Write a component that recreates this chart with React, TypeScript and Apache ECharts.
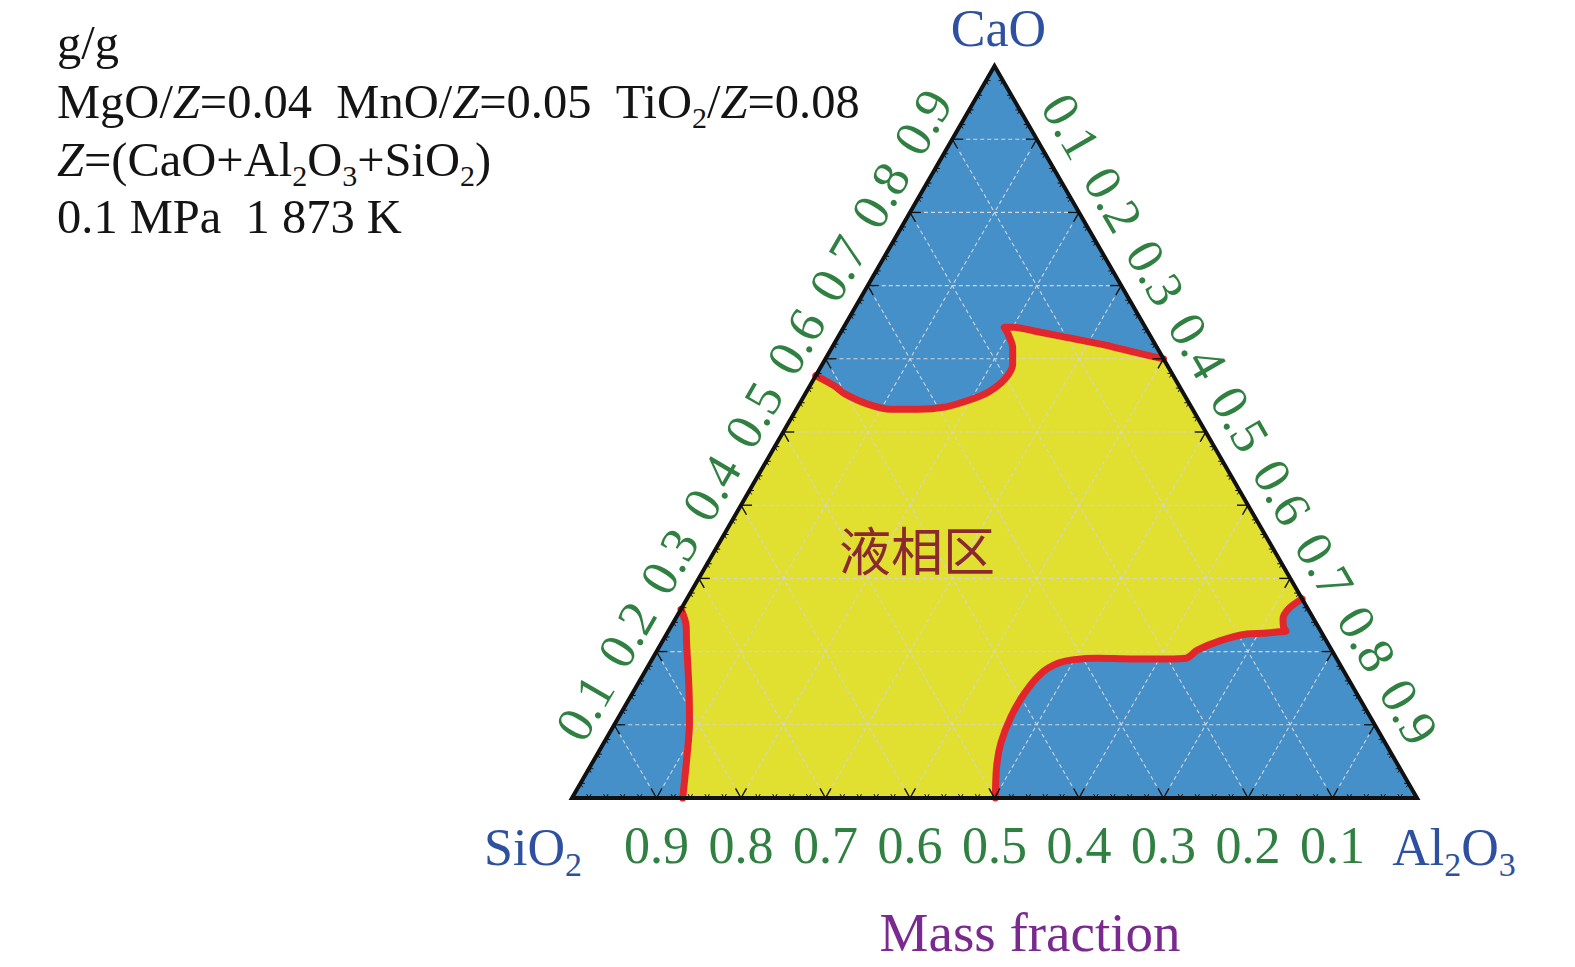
import React, { useEffect, useRef } from 'react';
import * as echarts from 'echarts';

// ---------------- data ----------------
const majorValues = [0.1, 0.2, 0.3, 0.4, 0.5, 0.6, 0.7, 0.8, 0.9];
// bottom axis (SiO2 fraction), left to right
const sio2TickLabels = ['0.9', '0.8', '0.7', '0.6', '0.5', '0.4', '0.3', '0.2', '0.1'];
// left side (CaO fraction), bottom to top
const caoTickLabels = ['0.1', '0.2', '0.3', '0.4', '0.5', '0.6', '0.7', '0.8', '0.9'];
// right side (Al2O3 fraction), top to bottom
const al2o3TickLabels = ['0.1', '0.2', '0.3', '0.4', '0.5', '0.6', '0.7', '0.8', '0.9'];
const minorStep = 0.02;

// Boundary curves of the liquid region, as [CaO, Al2O3] mass fractions (SiO2 = 1 - CaO - Al2O3)
const upperBoundary = [
  [0.577, 0.0],
  [0.563, 0.029],
  [0.552, 0.047],
  [0.538, 0.081],
  [0.531, 0.112],
  [0.531, 0.144],
  [0.534, 0.174],
  [0.543, 0.197],
  [0.554, 0.215],
  [0.572, 0.226],
  [0.593, 0.225],
  [0.615, 0.214],
  [0.634, 0.199],
  [0.643, 0.19],
  [0.643, 0.202],
  [0.638, 0.228],
  [0.629, 0.272],
  [0.62, 0.316],
  [0.609, 0.361],
  [0.6, 0.4],
];
const lowerRightBoundary = [
  [0.272, 0.728],
  [0.259, 0.719],
  [0.245, 0.719],
  [0.234, 0.725],
  [0.228, 0.731],
  [0.227, 0.723],
  [0.225, 0.706],
  [0.224, 0.687],
  [0.215, 0.66],
  [0.202, 0.639],
  [0.191, 0.631],
  [0.19, 0.61],
  [0.19, 0.566],
  [0.191, 0.527],
  [0.189, 0.5],
  [0.184, 0.483],
  [0.17, 0.47],
  [0.143, 0.464],
  [0.111, 0.464],
  [0.075, 0.47],
  [0.043, 0.481],
  [0.0, 0.501],
];
const leftBoundary = [
  [0.258, 0.0],
  [0.236, 0.017],
  [0.215, 0.028],
  [0.147, 0.065],
  [0.102, 0.088],
  [0.056, 0.108],
  [0.0, 0.131],
];

// ---------------- style ----------------
const SERIF = '"Liberation Serif", "Times New Roman", serif';
const CJK = '"Noto Sans CJK SC", sans-serif';
const BLUE = '#4690CA';
const YELLOW = '#E1DF2F';
const RED = '#E3262B';
const GREEN = '#2F8041';
const NAVY = '#2E50A1';
const PURPLE = '#7A2A8F';
const GRID_GRAY = '#D4D4D4';
const S3 = Math.sqrt(3) / 2;

// ternary [CaO, Al2O3] -> cartesian [x, y] of an equilateral triangle
const toXY = (p: number[]) => [p[1] + p[0] / 2, p[0]];

const liquidRegion = [...upperBoundary, ...lowerRightBoundary, ...leftBoundary.slice().reverse()];

const one = [[0, 0]];

function txt(text: string, x: number, y: number, rotation: number, fill: string, size: number) {
  return {
    type: 'text',
    x,
    y,
    rotation,
    style: {
      text,
      fill,
      font: `${size}px ${SERIF}`,
      fontFamily: SERIF,
      fontSize: size,
      align: 'center',
      verticalAlign: 'middle',
      textAlign: 'center',
      textVerticalAlign: 'middle',
    },
  };
}

function richText(text: string, x: number, y: number, fill: string, size: number, sub: number, pad: number, align = 'center') {
  return {
    type: 'text',
    x,
    y,
    style: {
      text,
      fill,
      fontFamily: SERIF,
      fontSize: size,
      font: `${size}px ${SERIF}`,
      align,
      verticalAlign: 'middle',
      textAlign: align,
      textVerticalAlign: 'middle',
      rich: {
        m: { fontFamily: SERIF, fontSize: size, fill },
        i: { fontFamily: SERIF, fontSize: size, fontStyle: 'italic', fill },
        s: { fontFamily: SERIF, fontSize: sub, fill, padding: [pad, 0, 0, 0] },
      },
    },
  };
}

function renderTriangle(params: any, api: any) {
  const pts = [[0, 0], [1, 0], [0.5, 1]].map((p) => api.coord(p));
  return { type: 'polygon', shape: { points: pts }, style: { fill: BLUE } };
}

function renderLiquid(params: any, api: any) {
  const pts = liquidRegion.map((p) => api.coord(toXY(p)));
  return { type: 'polygon', shape: { points: pts }, style: { fill: YELLOW } };
}

function renderGrid(params: any, api: any) {
  const children: any[] = [];
  majorValues.forEach((v) => {
    const segs = [
      [[v, 0], [v, 1 - v]],
      [[0, v], [1 - v, v]],
      [[0, 1 - v], [1 - v, 0]],
    ];
    segs.forEach((s) => {
      const a = api.coord(toXY(s[0]));
      const b = api.coord(toXY(s[1]));
      children.push({
        type: 'line',
        shape: { x1: a[0], y1: a[1], x2: b[0], y2: b[1] },
        style: { stroke: GRID_GRAY, lineWidth: 1.1, lineDash: [4, 3] },
      });
    });
  });
  return { type: 'group', children };
}

function renderFrame(params: any, api: any) {
  const pts = [[0, 0], [1, 0], [0.5, 1]].map((p) => api.coord(p));
  return {
    type: 'polygon',
    shape: { points: pts },
    style: { fill: 'none', stroke: '#111', lineWidth: 4, lineJoin: 'miter' },
  };
}

function renderTicks(params: any, api: any) {
  const children: any[] = [];
  const n = Math.round(1 / minorStep);
  const dirs: any = {
    right: [1, 0],
    left: [-1, 0],
    upRight: [0.5, -S3],
    upLeft: [-0.5, -S3],
    downRight: [0.5, S3],
    downLeft: [-0.5, S3],
  };
  for (let k = 1; k < n; k++) {
    const v = k * minorStep;
    const major = k % 5 === 0;
    const len = major ? 11 : 4.5;
    const places: [number[], string[]][] = [
      [[0, v], ['upLeft', 'upRight']],
      [[v, 0], ['right', 'downRight']],
      [[v, 1 - v], ['left', 'downLeft']],
    ];
    places.forEach(([p, ds]) => {
      const c = api.coord(toXY(p));
      ds.forEach((d) => {
        const u = dirs[d];
        children.push({
          type: 'line',
          shape: { x1: c[0], y1: c[1], x2: c[0] + u[0] * len, y2: c[1] + u[1] * len },
          style: { stroke: '#111', lineWidth: major ? 1.4 : 1 },
        });
      });
    });
  }
  return { type: 'group', children };
}

function renderLabels(params: any, api: any) {
  const children: any[] = [];
  majorValues.forEach((v, i) => {
    const b = api.coord(toXY([0, v]));
    children.push(txt(sio2TickLabels[i], b[0], b[1] + 47.5, 0, GREEN, 52));
    const l = api.coord(toXY([v, 0]));
    children.push(txt(caoTickLabels[i], l[0] - 34 * S3, l[1] - 34 * 0.5, Math.PI / 3, GREEN, 52));
    const r = api.coord(toXY([1 - v, v]));
    children.push(
      txt(al2o3TickLabels[i], r[0] + 36 * S3 + 6 * 0.5, r[1] - 36 * 0.5 + 6 * S3, -Math.PI / 3, GREEN, 52)
    );
  });
  const top = api.coord([0.5, 1]);
  const bl = api.coord([0, 0]);
  const br = api.coord([1, 0]);
  children.push(richText('{m|CaO}', top[0] + 4, top[1] - 38, NAVY, 52, 34, 34));
  children.push(richText('{m|SiO}{s|2}', bl[0] - 39, bl[1] + 49, NAVY, 52, 34, 34));
  children.push(richText('{m|Al}{s|2}{m|O}{s|3}', br[0] + 37, br[1] + 49, NAVY, 52, 34, 34));
  return { type: 'group', children };
}

const redLine = (name: string, pts: number[][]) => ({
  name,
  type: 'line',
  data: pts.map(toXY),
  showSymbol: false,
  symbol: 'none',
  smooth: 0.3,
  clip: false,
  z: 4,
  lineStyle: { color: RED, width: 7, cap: 'round', join: 'round' },
});

const custom = (name: string, fn: any, z: number) => ({
  name,
  type: 'custom',
  coordinateSystem: 'cartesian2d',
  data: one,
  renderItem: fn,
  clip: false,
  silent: true,
  z,
});

const legendLines = [
  '{m|g/g}',
  '{m|MgO/}{i|Z}{m|=0.04\u00a0\u00a0MnO/}{i|Z}{m|=0.05\u00a0\u00a0TiO}{s|2}{m|/}{i|Z}{m|=0.08}',
  '{i|Z}{m|=(CaO+Al}{s|2}{m|O}{s|3}{m|+SiO}{s|2}{m|)}',
  '{m|0.1\u00a0MPa\u00a0\u00a01\u00a0873\u00a0K}',
];
const legendCenters = [42, 101, 159, 216];

const option: any = {
  animation: false,
  backgroundColor: '#ffffff',
  grid: { left: 572, top: 66, width: 845, height: 732, containLabel: false },
  xAxis: { type: 'value', min: 0, max: 1, show: false },
  yAxis: { type: 'value', min: 0, max: 1, show: false },
  tooltip: { show: false },
  series: [
    custom('triangle', renderTriangle, 1),
    custom('liquid', renderLiquid, 2),
    custom('grid', renderGrid, 3),
    redLine('upper', upperBoundary),
    redLine('lowerRight', lowerRightBoundary),
    redLine('left', leftBoundary),
    custom('frame', renderFrame, 5),
    custom('ticks', renderTicks, 6),
    custom('labels', renderLabels, 7),
  ],
  graphic: [
    ...legendLines.map((t, i) => ({
      ...richText(t, 57, legendCenters[i], '#141414', 48.5, 30, 32, 'left'),
      z: 100,
    })),
    {
      type: 'text',
      x: 917,
      y: 548,
      z: 100,
      style: {
        text: '液相区',
        fill: '#8A2A30',
        font: `52px ${CJK}`,
        fontFamily: CJK,
        fontSize: 52,
        align: 'center',
        verticalAlign: 'middle',
        textAlign: 'center',
        textVerticalAlign: 'middle',
      },
    },
    {
      type: 'text',
      x: 1030,
      y: 932,
      z: 100,
      style: {
        text: 'Mass fraction',
        fill: PURPLE,
        font: `55px ${SERIF}`,
        fontFamily: SERIF,
        fontSize: 55,
        align: 'center',
        verticalAlign: 'middle',
        textAlign: 'center',
        textVerticalAlign: 'middle',
      },
    },
  ],
};

export default function App() {
  const ref = useRef<HTMLDivElement>(null);
  useEffect(() => {
    document.body.style.margin = '0';
    const chart = echarts.init(ref.current as HTMLDivElement, null, { renderer: 'svg' });
    chart.setOption(option);
    return () => chart.dispose();
  }, []);
  return (
    <div style={{ position: 'absolute', left: 0, top: 0, width: 1575, height: 967, background: '#fff' }}>
      <div ref={ref} style={{ width: 1575, height: 967 }} />
    </div>
  );
}
